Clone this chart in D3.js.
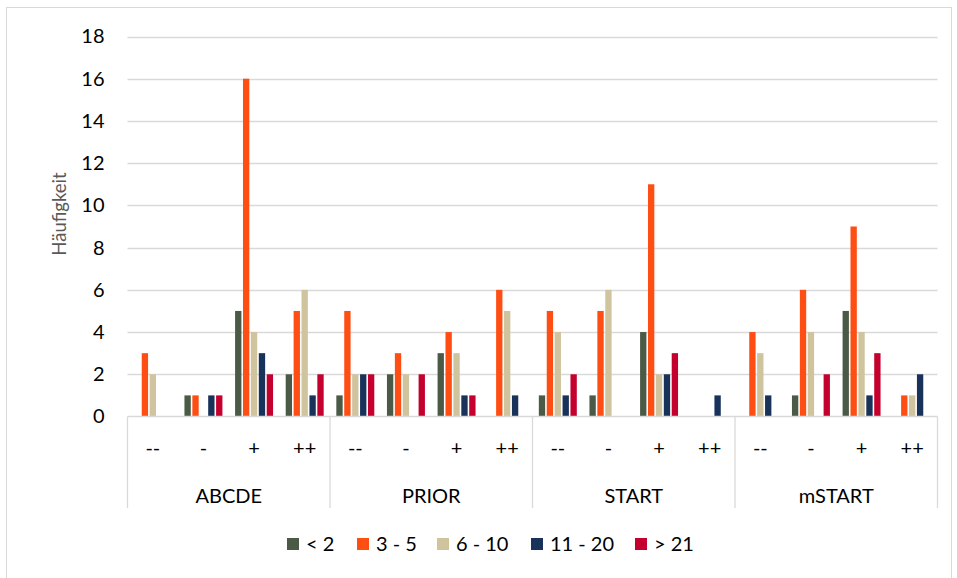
<!DOCTYPE html>
<html>
<head>
<meta charset="utf-8">
<script src="https://cdn.jsdelivr.net/npm/d3@7"></script>
<style>
  html, body { margin: 0; padding: 0; background: #fff; }
  svg { display: block; }
  text { font-family: Lato, "Liberation Sans", sans-serif; }
</style>
</head>
<body>
<svg id="chart" width="957" height="578"></svg>
<script>
// Groups (outer category level) and ratings (inner category level)
const groups = ["ABCDE", "PRIOR", "START", "mSTART"];
const ratings = ["--", "-", "+", "++"];
const seriesNames = ["< 2", "3 - 5", "6 - 10", "11 - 20", "> 21"];
const seriesColors = ["#4b5a46", "#ff4e14", "#d0c49e", "#18325a", "#c4002f"];
const yTicks = [0, 2, 4, 6, 8, 10, 12, 14, 16, 18];

// Frequencies per series, ordered group by group, rating by rating
const lt2    = [0, 1, 5, 2,   1, 2, 3, 0,   1, 1, 4, 0,   0, 1, 5, 0];
const r3to5  = [3, 1, 16, 5,  5, 3, 4, 6,   5, 5, 11, 0,  4, 6, 9, 1];
const r6to10 = [2, 0, 4, 6,   2, 2, 3, 5,   4, 6, 2, 0,   3, 4, 4, 1];
const r11to20= [0, 1, 3, 1,   2, 0, 1, 1,   1, 0, 2, 1,   1, 0, 1, 2];
const gt21   = [0, 1, 2, 2,   2, 2, 1, 0,   2, 0, 3, 0,   0, 2, 3, 0];
const seriesValues = [lt2, r3to5, r6to10, r11to20, gt21];

const svg = d3.select("#chart");

// Outer chart frame
svg.append("rect")
  .attr("x", 6.5).attr("y", 7.5)
  .attr("width", 945).attr("height", 575)
  .attr("fill", "none").attr("stroke", "#d9d9d9").attr("stroke-width", 1);

const plot = { left: 127.5, right: 937.5, top: 36.5, bottom: 416.5 };

const y = d3.scaleLinear().domain([0, 18]).range([plot.bottom, plot.top]);
const xGroup = d3.scaleBand().domain(groups).range([plot.left, plot.right]).padding(0);
const xRating = d3.scaleBand().domain(ratings).range([0, xGroup.bandwidth()]).padding(0);
const xSeries = d3.scaleBand().domain(d3.range(seriesNames.length))
  .range([0, xRating.bandwidth()]).paddingInner(0.2).paddingOuter(0.8);

// Horizontal gridlines
svg.append("g").selectAll("line").data(yTicks.filter(t => t > 0)).join("line")
  .attr("x1", plot.left).attr("x2", plot.right)
  .attr("y1", d => Math.round(y(d)) + 0.5).attr("y2", d => Math.round(y(d)) + 0.5)
  .attr("stroke", "#d9d9d9").attr("stroke-width", 1.3);

// Y axis tick labels
const yAxis = d3.axisLeft(y).tickValues(yTicks).tickSize(0).tickPadding(0);
const yg = svg.append("g").attr("transform", `translate(${plot.left - 23},0)`).call(yAxis);
yg.select(".domain").remove();
yg.selectAll("text").attr("font-size", 20).attr("fill", "#000")
  .attr("font-family", "Lato, 'Liberation Sans', sans-serif");

// Y axis title
svg.append("text")
  .attr("transform", "translate(66,214) rotate(-90)")
  .attr("text-anchor", "middle")
  .attr("font-size", 18.5).attr("fill", "#595959")
  .text("Häufigkeit");

// Bars
const cells = [];
groups.forEach((g, gi) => ratings.forEach((r, ri) => {
  seriesValues.forEach((vals, si) => {
    cells.push({ g, r, si, v: vals[gi * ratings.length + ri] });
  });
}));

svg.append("g").selectAll("rect").data(cells.filter(d => d.v > 0)).join("rect")
  .attr("x", d => xGroup(d.g) + xRating(d.r) + xSeries(d.si))
  .attr("width", xSeries.bandwidth())
  .attr("y", d => y(d.v))
  .attr("height", d => y(0) - y(d.v))
  .attr("fill", d => seriesColors[d.si]);

// Category axis line and group separators
svg.append("line")
  .attr("x1", plot.left).attr("x2", plot.right)
  .attr("y1", plot.bottom).attr("y2", plot.bottom)
  .attr("stroke", "#d9d9d9").attr("stroke-width", 1.3);

const bounds = groups.map(g => xGroup(g)).concat([plot.right]);
svg.append("g").selectAll("line").data(bounds).join("line")
  .attr("x1", d => d).attr("x2", d => d)
  .attr("y1", plot.bottom).attr("y2", 508)
  .attr("stroke", "#d9d9d9").attr("stroke-width", 1.3);

// Inner labels
const inner = [];
groups.forEach(g => ratings.forEach(r => inner.push({ g, r })));
svg.append("g").selectAll("text").data(inner).join("text")
  .attr("x", d => xGroup(d.g) + xRating(d.r) + xRating.bandwidth() / 2)
  .attr("y", 455)
  .attr("text-anchor", "middle")
  .attr("font-size", 20).attr("fill", "#000")
  .text(d => d.r);

// Outer labels
svg.append("g").selectAll("text").data(groups).join("text")
  .attr("x", d => xGroup(d) + xGroup.bandwidth() / 2)
  .attr("y", 503)
  .attr("text-anchor", "middle")
  .attr("font-size", 20).attr("fill", "#000")
  .text(d => d);

// Legend
const legendX = [287, 357, 437, 531, 635];
const lg = svg.append("g").selectAll("g").data(seriesNames).join("g")
  .attr("transform", (d, i) => `translate(${legendX[i]},544)`);
lg.append("rect").attr("x", 0).attr("y", -6).attr("width", 12).attr("height", 12)
  .attr("fill", (d, i) => seriesColors[i]);
lg.append("text").attr("x", 19).attr("y", 7)
  .attr("font-size", 20).attr("fill", "#000")
  .text(d => d);
</script>
</body>
</html>
